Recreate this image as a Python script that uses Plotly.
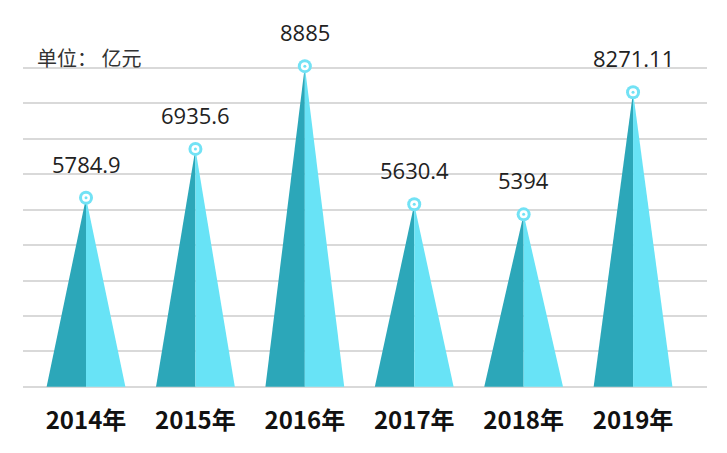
import plotly.graph_objects as go

years = ["2014年", "2015年", "2016年", "2017年", "2018年", "2019年"]
values = [5784.9, 6935.6, 8885, 5630.4, 5394, 8271.11]
value_labels = ["5784.9", "6935.6", "8885", "5630.4", "5394", "8271.11"]

DARK = "#2ca7b9"
LIGHT = "#68e3f6"
Y0, Y1, DY = 1334, 9100, 834
HALF = 0.36

fig = go.Figure()
for i, v in enumerate(values):
    fig.add_trace(go.Scatter(
        x=[i - HALF, i, i, i - HALF], y=[Y0, v, Y0, Y0],
        mode="lines", fill="toself", fillcolor=DARK,
        line=dict(width=0, color=DARK), hoverinfo="skip", showlegend=False))
    fig.add_trace(go.Scatter(
        x=[i, i, i + HALF, i], y=[Y0, v, Y0, Y0],
        mode="lines", fill="toself", fillcolor=LIGHT,
        line=dict(width=0, color=LIGHT), hoverinfo="skip", showlegend=False))

xs = list(range(len(values)))
for size, color in [(14, "#72e2f5"), (8, "white"), (3, "#72e2f5")]:
    fig.add_trace(go.Scatter(
        x=xs, y=values, mode="markers", cliponaxis=False,
        marker=dict(size=size, color=color, line=dict(width=0)),
        hoverinfo="skip", showlegend=False))

for i, (v, t) in enumerate(zip(values, value_labels)):
    fig.add_annotation(x=i, y=v, text=t, showarrow=False, yshift=34,
                       font=dict(family="Open Sans", size=22, color="#222222"))

fig.add_annotation(xref="paper", yref="paper", x=0.018, y=1.0,
                   xanchor="left", yanchor="middle", text="单位： 亿元",
                   showarrow=False,
                   font=dict(family="Noto Sans CJK SC", size=20, color="#333333"))

fig.update_layout(
    width=719, height=445,
    margin=dict(l=15, r=20, t=49, b=65),
    paper_bgcolor="white", plot_bgcolor="white",
    xaxis=dict(range=[-0.576, 5.676], tickvals=xs, ticktext=years,
               showgrid=False, zeroline=False, showline=False, ticks="",
               ticklabelstandoff=16,
               tickfont=dict(family="Noto Sans CJK SC", size=24, color="#111111", weight="bold")),
    yaxis=dict(range=[Y0 - 30, Y1], tickvals=[Y0 + k * DY for k in range(10)],
               showticklabels=False, showgrid=True, gridcolor="#d9d9d9",
               gridwidth=1.5, zeroline=False, showline=False, ticks=""),
)

fig.write_html("out.html")
